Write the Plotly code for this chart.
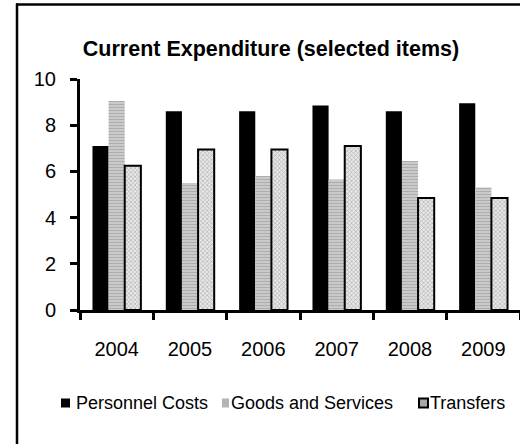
import plotly.graph_objects as go

years = ["2004", "2005", "2006", "2007", "2008", "2009"]
personnel_costs = [7.1, 8.6, 8.6, 8.85, 8.6, 8.95]
goods_services = [9.05, 5.5, 5.8, 5.65, 6.45, 5.3]
transfers = [6.25, 6.95, 6.95, 7.1, 4.85, 4.85]
y_ticks = [0, 2, 4, 6, 8, 10]
series_names = ["Personnel Costs", "Goods and Services", "Transfers"]

FONT = "Liberation Sans, Arial, sans-serif"

W, H = 520, 444
# plot area in pixels
L, R, T, B = 80, 520, 79, 310
def px(x):
    return (x - L) / (R - L)
def py(y):
    return (B - y) / (B - T)

fig = go.Figure()
fig.add_trace(go.Bar(
    name=series_names[0], x=years, y=personnel_costs,
    marker=dict(color="#000000", line=dict(width=0)),
))
fig.add_trace(go.Bar(
    name=series_names[1], x=years, y=goods_services,
    marker=dict(color="#d0d0d0", line=dict(width=0),
                pattern=dict(shape="-", fgcolor="#8a8a8a", bgcolor="#d0d0d0",
                             size=3, solidity=0.45)),
))
fig.add_trace(go.Bar(
    name=series_names[2], x=years, y=transfers,
    marker=dict(color="#e0e0e0", line=dict(width=2, color="#000000"),
                pattern=dict(shape="x", fgcolor="#7a7a7a", bgcolor="#e8e8e8",
                             size=3, solidity=0.4)),
))

# custom legend (compact, as in the reference)
legend_marks = [
    dict(x0=61, x1=70, fill="#000000", line=0),
    dict(x0=222, x1=229, fill="#b4b4b4", line=0),
    dict(x0=419, x1=428, fill="#a8a8a8", line=2),
]
legend_text_x = [75, 230, 429]
legend_y = 403

# chart-area frame: only top and left edges fall inside the picture
shapes = [
    dict(type="line", xref="paper", yref="paper",
         x0=px(16), x1=px(520), y0=py(4.5), y1=py(4.5),
         line=dict(color="black", width=2.5), layer="below"),
    dict(type="line", xref="paper", yref="paper",
         x0=px(17), x1=px(17), y0=py(3.5), y1=py(444),
         line=dict(color="black", width=2.5), layer="below"),
]
annotations = []
for m, tx, name in zip(legend_marks, legend_text_x, series_names):
    shapes.append(dict(type="rect", xref="paper", yref="paper",
                       x0=px(m["x0"]), x1=px(m["x1"]),
                       y0=py(legend_y + 4.5), y1=py(legend_y - 4.5),
                       fillcolor=m["fill"],
                       line=dict(color="black", width=m["line"])))
    annotations.append(dict(text=name, xref="paper", yref="paper",
                            x=px(tx), y=py(legend_y), xanchor="left", yanchor="middle",
                            showarrow=False, borderpad=0,
                            font=dict(family=FONT, size=18, color="black")))

fig.update_layout(
    width=W, height=H,
    margin=dict(l=L, r=W - R, t=T, b=H - B, autoexpand=False),
    paper_bgcolor="white", plot_bgcolor="white",
    barmode="group", bargap=0.34, bargroupgap=0,
    font=dict(family=FONT, size=18, color="black"),
    title=dict(text="<b>Current Expenditure (selected items)</b>",
               x=271 / W, xanchor="center", y=1 - 48 / H, yanchor="middle",
               font=dict(family=FONT, size=21.5, color="black")),
    showlegend=False,
    xaxis=dict(type="category", range=[-0.5, 5.5], showline=True, linecolor="black",
               linewidth=3, ticks="outside", tickson="boundaries", ticklen=7,
               tickwidth=3, tickcolor="black", showgrid=False, zeroline=False,
               ticklabelstandoff=19,
               tickfont=dict(family=FONT, size=20, color="black")),
    yaxis=dict(range=[0, 10], tickvals=y_ticks, showline=True, linecolor="black",
               linewidth=3, ticks="outside", ticklen=7, tickwidth=3, tickcolor="black",
               showgrid=False, zeroline=False, ticklabelstandoff=10,
               tickfont=dict(family=FONT, size=20, color="black")),
    shapes=shapes,
    annotations=annotations,
)

fig.write_html("out.html", config={"displayModeBar": False},
               post_script="document.body.style.margin='0';document.body.style.overflow='hidden';")
